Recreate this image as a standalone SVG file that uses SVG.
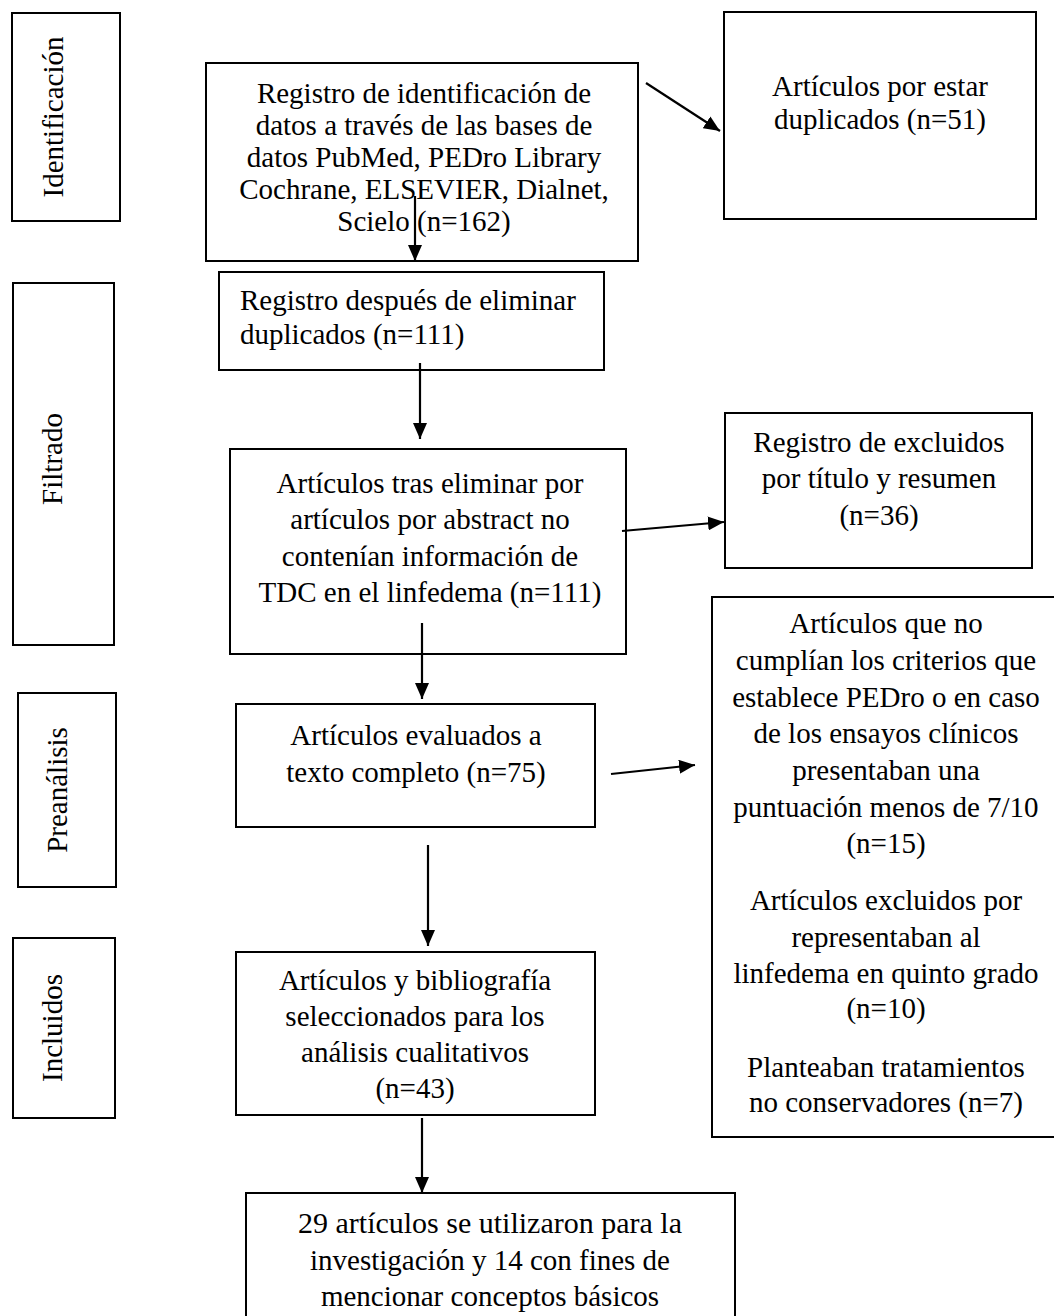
<svg xmlns="http://www.w3.org/2000/svg" width="1054" height="1316" viewBox="0 0 1054 1316">
<style>
.box{fill:#fff;stroke:#000;stroke-width:2}
.t{font-family:"Liberation Serif","Times New Roman",serif;font-size:29px;fill:#000;text-anchor:middle}
.l{text-anchor:start}
.c{stroke:#000;stroke-width:2.2;fill:none;marker-end:url(#ah)}
</style>
<defs>
<marker id="ah" markerUnits="userSpaceOnUse" markerWidth="16" markerHeight="14" refX="16" refY="7" orient="auto">
<path d="M0,0 L16,7 L0,14 z" fill="#000"/>
</marker>
</defs>
<rect width="1054" height="1316" fill="#fff"/>

<g id="stage-identificacion">
<rect class="box" x="12" y="13" width="108" height="208"/>
<text class="t" transform="translate(63,117) rotate(-90)">Identificación</text>
</g>
<g id="stage-filtrado">
<rect class="box" x="13" y="283" width="101" height="362"/>
<text class="t" transform="translate(62,459) rotate(-90)">Filtrado</text>
</g>
<g id="stage-preanalisis">
<rect class="box" x="18" y="693" width="98" height="194"/>
<text class="t" transform="translate(67,790) rotate(-90)">Preanálisis</text>
</g>
<g id="stage-incluidos">
<rect class="box" x="13" y="938" width="102" height="180"/>
<text class="t" transform="translate(62,1028) rotate(-90)">Incluidos</text>
</g>

<g id="n1">
<rect class="box" x="206" y="63" width="432" height="198"/>
<text class="t" x="424" y="103">Registro de identificación de</text>
<text class="t" x="424" y="135">datos a través de las bases de</text>
<text class="t" x="424" y="167">datos PubMed, PEDro Library</text>
<text class="t" x="424" y="199">Cochrane, ELSEVIER, Dialnet,</text>
<text class="t" x="424" y="231">Scielo (n=162)</text>
</g>
<g id="n2">
<rect class="box" x="219" y="272" width="385" height="98"/>
<text class="t l" x="240" y="310">Registro después de eliminar</text>
<text class="t l" x="240" y="344">duplicados (n=111)</text>
</g>
<g id="n3">
<rect class="box" x="230" y="449" width="396" height="205"/>
<text class="t" x="430" y="493">Artículos tras eliminar por</text>
<text class="t" x="430" y="529">artículos por abstract no</text>
<text class="t" x="430" y="566">contenían información de</text>
<text class="t" x="430" y="602">TDC en el linfedema (n=111)</text>
</g>
<g id="n4">
<rect class="box" x="236" y="704" width="359" height="123"/>
<text class="t" x="416" y="745">Artículos evaluados a</text>
<text class="t" x="416" y="782">texto completo (n=75)</text>
</g>
<g id="n5">
<rect class="box" x="236" y="952" width="359" height="163"/>
<text class="t" x="415" y="990">Artículos y bibliografía</text>
<text class="t" x="415" y="1026">seleccionados para los</text>
<text class="t" x="415" y="1062">análisis cualitativos</text>
<text class="t" x="415" y="1098">(n=43)</text>
</g>
<g id="n6">
<rect class="box" x="246" y="1193" width="489" height="140"/>
<text class="t" x="490" y="1233" style="font-size:30px">29 artículos se utilizaron para la</text>
<text class="t" x="490" y="1270">investigación y 14 con fines de</text>
<text class="t" x="490" y="1306">mencionar conceptos básicos</text>
</g>
<g id="r1">
<rect class="box" x="724" y="12" width="312" height="207"/>
<text class="t" x="880" y="96">Artículos por estar</text>
<text class="t" x="880" y="129">duplicados (n=51)</text>
</g>
<g id="r2">
<rect class="box" x="725" y="413" width="307" height="155"/>
<text class="t" x="879" y="452">Registro de excluidos</text>
<text class="t" x="879" y="488">por título y resumen</text>
<text class="t" x="879" y="525">(n=36)</text>
</g>
<g id="r3">
<rect class="box" x="712" y="597" width="350" height="540"/>
<text class="t" x="886" y="633">Artículos que no</text>
<text class="t" x="886" y="670">cumplían los criterios que</text>
<text class="t" x="886" y="707">establece PEDro o en caso</text>
<text class="t" x="886" y="743">de los ensayos clínicos</text>
<text class="t" x="886" y="780">presentaban una</text>
<text class="t" x="886" y="817">puntuación menos de 7/10</text>
<text class="t" x="886" y="853">(n=15)</text>
<text class="t" x="886" y="910">Artículos excluidos por</text>
<text class="t" x="886" y="947">representaban al</text>
<text class="t" x="886" y="983">linfedema en quinto grado</text>
<text class="t" x="886" y="1018">(n=10)</text>
<text class="t" x="886" y="1077">Planteaban tratamientos</text>
<text class="t" x="886" y="1112">no conservadores (n=7)</text>
</g>

<g id="connectors">
<line class="c" x1="415" y1="196" x2="415" y2="261"/>
<line class="c" x1="420" y1="363" x2="420" y2="439"/>
<line class="c" x1="422" y1="623" x2="422" y2="699"/>
<line class="c" x1="428" y1="845" x2="428" y2="946"/>
<line class="c" x1="422" y1="1118" x2="422" y2="1193"/>
<line class="c" x1="646" y1="83" x2="720" y2="131"/>
<line class="c" x1="622" y1="531" x2="724" y2="522"/>
<line class="c" x1="611" y1="774" x2="695" y2="765"/>
</g>
</svg>
